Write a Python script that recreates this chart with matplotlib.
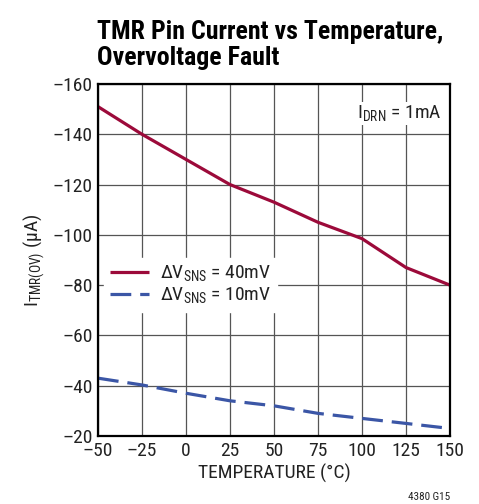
import matplotlib
matplotlib.use("Agg")
import matplotlib.pyplot as plt
from matplotlib import font_manager

# font: condensed sans, like the datasheet; fall back to Liberation Sans
names = {f.name for f in font_manager.fontManager.ttflist}
fam = "Liberation Sans"
for cand in ["Roboto Condensed", "Archivo Narrow", "PT Sans Narrow", "IBM Plex Sans Condensed"]:
    if cand in names:
        fam = cand
        break
narrow = fam != "Liberation Sans"
plt.rcParams['font.family'] = [fam, 'DejaVu Sans']

# data
temps = [-50, -25, 0, 25, 50, 75, 100, 125, 150]
i_40mv = [-151, -140, -130, -120, -113, -105, -98.5, -87, -80]
i_10mv = [-43, -40.3, -37, -34, -32, -29, -27, -25, -23]
x_ticks = [-50, -25, 0, 25, 50, 75, 100, 125, 150]
y_ticks = [-160, -140, -120, -100, -80, -60, -40, -20]

red = "#9c0a3a"
blue = "#3b56a6"
fs = 14 if narrow else 12
fs_title = 18.6 if narrow else 15.5

fig = plt.figure(figsize=(4.79, 5.04), dpi=100)
ax = fig.add_axes([98/479, 1 - 436/504, 352/479, 352/504])

ax.plot(temps, i_40mv, color=red, lw=2.3, solid_capstyle='butt', label="ΔV$_{\\mathregular{SNS}}$ = 40mV")
ax.plot(temps, i_10mv, color=blue, lw=2.3, dashes=(6.5, 2.8), label="ΔV$_{\\mathregular{SNS}}$ = 10mV")

ax.set_xlim(-50, 150)
ax.set_ylim(-20, -160)
ax.set_xticks(x_ticks)
ax.set_yticks(y_ticks)
ax.set_xticklabels([str(t).replace("-", "\u2013") for t in x_ticks])
ax.set_yticklabels([str(t).replace("-", "\u2013") for t in y_ticks])
ax.tick_params(length=0, labelsize=fs, pad=4, colors="#222222")
ax.grid(True, color="#555555", lw=0.9)
for s in ax.spines.values():
    s.set_linewidth(1.6)
    s.set_color("black")

ax.set_xlabel("TEMPERATURE (°C)", fontsize=fs, color="#222222", labelpad=3)
ax.set_ylabel("I$_{\\mathregular{TMR(OV)}}$ (µA)", fontsize=fs, color="#222222", labelpad=4)

leg = ax.legend(loc="upper left", bbox_to_anchor=(0.0, 0.523), frameon=True, fontsize=fs,
                handlelength=2.0, handletextpad=0.6, borderpad=0.3, labelspacing=0.1,
                fancybox=False, borderaxespad=0.3)
leg.get_frame().set_edgecolor("white")
leg.get_frame().set_facecolor("white")
leg.get_frame().set_alpha(1)
for t in leg.get_texts():
    t.set_color("#222222")

ax.text(0.975, 0.945, "I$_{\\mathregular{DRN}}$ = 1mA", transform=ax.transAxes, ha="right", va="top",
        fontsize=fs, color="#222222",
        bbox=dict(facecolor="white", edgecolor="none", pad=1))

fig.text(97/479, 1 - 20/504, "TMR Pin Current vs Temperature,\nOvervoltage Fault", ha="left", va="top",
         fontsize=fs_title, fontweight="bold", linespacing=1.1)
fig.text(450/479, 1 - 497/504, "4380 G15", ha="right", va="center", fontsize=8, color="#222222")

fig.savefig("out.png", dpi=100)
